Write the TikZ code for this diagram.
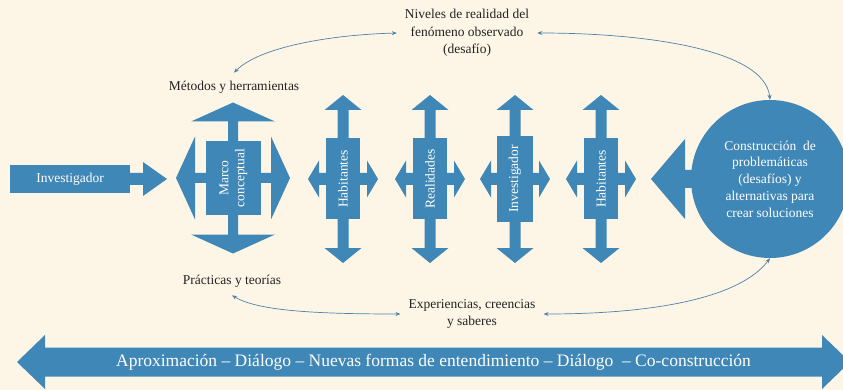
\documentclass[tikz,border=0pt]{standalone}
\usepackage{fontspec}
\setmainfont{Liberation Serif}
\usetikzlibrary{arrows.meta}
\definecolor{shapeblue}{RGB}{63,135,183}
\definecolor{paper}{RGB}{253,246,230}
\definecolor{arcblue}{RGB}{78,130,170}
\definecolor{inktext}{RGB}{35,35,35}
\tikzset{
    arrowfill/.style={fill=shapeblue},
    bluebox/.style={rectangle, fill=shapeblue, text=white, inner sep=0pt, align=center,
        font=\fontsize{13.5}{16}\selectfont},
    notetext/.style={text=inktext, inner sep=8pt, align=center,
        font=\fontsize{13.5}{17.5}\selectfont},
    linkarc/.style={draw=arcblue, line width=0.7pt, {Stealth[length=5pt,width=4pt]}-{Stealth[length=5pt,width=4pt]}}
}
% double arrow: #1 shift/rotate, #2 half length, #3 head half width, #4 head length, #5 shaft half width
\newcommand{\dblarrow}[5]{%
    \fill[arrowfill,#1] ({-#2},0) -- ({-#2+#4},{-#3}) -- ({-#2+#4},{-#5}) -- ({#2-#4},{-#5})
        -- ({#2-#4},{-#3}) -- (#2,0) -- ({#2-#4},#3) -- ({#2-#4},#5) -- ({-#2+#4},#5)
        -- ({-#2+#4},#3) -- cycle;}
\begin{document}
\begin{tikzpicture}[x=1pt,y=-1pt]
    \fill[paper] (0,0) rectangle (843,390);
    \useasboundingbox (0,0) rectangle (843,390);

    % block arrows
    \dblarrow{shift={(233,178)},rotate=90}{75.5}{42}{19}{5}
    \dblarrow{shift={(233,178)}}{57}{41.5}{19}{5}
    \dblarrow{shift={(343,179)},rotate=90}{84}{18.5}{15}{5.5}
    \dblarrow{shift={(343,179)}}{35}{18.5}{11}{6}
    \dblarrow{shift={(430,179)},rotate=90}{84}{18.5}{15}{5.5}
    \dblarrow{shift={(430,179)}}{35}{18.5}{11}{6}
    \dblarrow{shift={(515,179)},rotate=90}{84}{18.5}{15}{5.5}
    \dblarrow{shift={(515,179)}}{35}{18.5}{11}{6}
    \dblarrow{shift={(601,179)},rotate=90}{84}{18.5}{15}{5.5}
    \dblarrow{shift={(601,179)}}{35}{18.5}{11}{6}
    \dblarrow{shift={(433.5,362)}}{416.5}{27}{28}{14.5}
    \fill[arrowfill] (129,173) -- (143,173) -- (143,162) -- (167,179) -- (143,196) -- (143,185) -- (129,185) -- cycle;
    \fill[arrowfill] (705,170) -- (685,170) -- (685,139) -- (651,179) -- (685,219) -- (685,188) -- (705,188) -- cycle;

    % blue nodes
    \node[bluebox, minimum width=120, minimum height=28] (invbox) at (70,179) {Investigador};
    \node[bluebox, rotate=90, minimum width=74, minimum height=55] (marco) at (233.5,178) {Marco\\conceptual};
    \node[bluebox, rotate=90, minimum width=81, minimum height=34] (hab1) at (343,179) {Habitantes};
    \node[bluebox, rotate=90, minimum width=81, minimum height=34] (real) at (430,179) {Realidades};
    \node[bluebox, rotate=90, minimum width=86, minimum height=36] (inv2) at (515,179) {Investigador};
    \node[bluebox, rotate=90, minimum width=81, minimum height=34] (hab2) at (601,179) {Habitantes};
    \node[bluebox, circle, minimum size=158, font=\fontsize{13.5}{16.8}\selectfont] (constr) at (770,179)
        {Construcción \ de\\problemáticas\\(desafíos) y\\alternativas para\\crear soluciones};
    \node[text=white, font=\fontsize{17.5}{19}\selectfont] (bar) at (433.5,362)
        {Aproximación – Diálogo – Nuevas formas de entendimiento – Diálogo \ – Co-construcción};

    % labels
    \node[notetext] (niveles) at (467,33) {Niveles de realidad del\\fenómeno observado\\(desafío)};
    \node[notetext] (metodos) at (234,87) {Métodos y herramientas};
    \node[notetext] (practicas) at (232,281) {Prácticas y teorías};
    \node[notetext] (experiencias) at (472,314) {Experiencias, creencias\\y saberes};

    % links
    \draw[linkarc] (niveles.west) .. controls +(-70,2) and +(25,-25) .. (metodos.north);
    \draw[linkarc] (niveles.east) .. controls +(110,0) and +(-5,-50) .. (constr.north);
    \draw[linkarc] (practicas.south) .. controls +(25,15) and +(-90,0) .. (experiencias.west);
    \draw[linkarc] (experiencias.east) .. controls +(110,0) and +(-30,40) .. (constr.south);
\end{tikzpicture}
\end{document}
